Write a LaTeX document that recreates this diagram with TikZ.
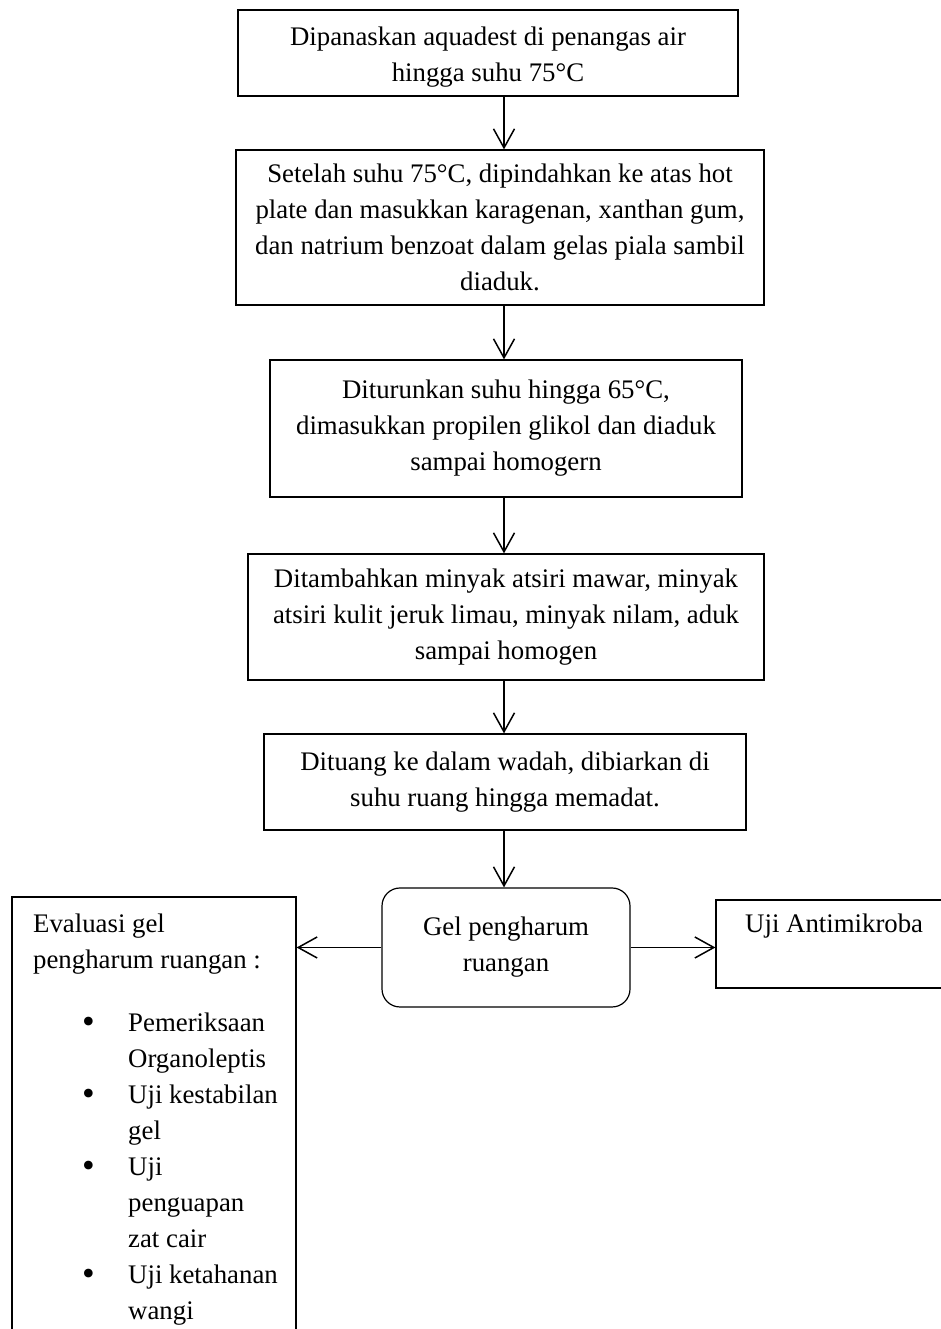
\documentclass[tikz,border=0pt]{standalone}
\usepackage{fontspec}
\setmainfont{Liberation Serif}
\usetikzlibrary{arrows.meta}
\newcommand{\bul}{\makebox[46pt][l]{\raisebox{-1.5pt}{\scalebox{1.35}{\textbullet}}}}
\newcommand{\ind}{\hspace*{46pt}}
\begin{document}
\begin{tikzpicture}[x=1pt,y=1pt,
  box/.style={draw, line width=1.2pt, inner sep=0pt, align=center, font=\fontsize{26.8}{36}\selectfont},
  flow/.style={line width=1.2pt, -{Straight Barb[length=19pt,width=21pt,line width=1.5pt]}},
  txt/.style={inner sep=0pt, font=\fontsize{26.8}{36}\selectfont}]
\useasboundingbox (0,0) rectangle (941,1329);
\clip (0,0) rectangle (941,1329);
\coordinate (axis) at (504,0);
\node[box, minimum width=500pt, minimum height=86pt] (b1) at (488,1276)
  {\rule{0pt}{26pt}Dipanaskan aquadest di penangas air\\hingga suhu 75°C};
\node[box, minimum width=528pt, minimum height=155pt] (b2) at (500,1101.5)
  {Setelah suhu 75°C, dipindahkan ke atas hot\\plate dan masukkan karagenan, xanthan gum,\\dan natrium benzoat dalam gelas piala sambil\\diaduk.};
\node[box, minimum width=472pt, minimum height=137pt] (b3) at (506,900.5)
  {Diturunkan suhu hingga 65°C,\\dimasukkan propilen glikol dan diaduk\\sampai homogern};
\node[box, minimum width=516pt, minimum height=126pt] (b4) at (506,712)
  {Ditambahkan minyak atsiri mawar, minyak\\atsiri kulit jeruk limau, minyak nilam, aduk\\sampai homogen};
\node[box, minimum width=482pt, minimum height=96pt] (b5) at (505,547)
  {Dituang ke dalam wadah, dibiarkan di\\suhu ruang hingga memadat.};
\node[box, rounded corners=18pt, minimum width=248pt, minimum height=119pt] (gel) at (506,381.5)
  {Gel pengharum\\ruangan};
\node[draw, line width=1.2pt, inner sep=0pt, minimum width=234pt, minimum height=88pt] (uji) at (833,385) {};
\node[txt, anchor=base west] (ujitext) at (745,396) {Uji Antimikroba};
\node[draw, line width=1.2pt, inner sep=0pt, minimum width=284pt, minimum height=452pt] (eval) at (154,206) {};
\node[txt, anchor=base west] (evalhead) at (33,396)
  {\begin{tabular}[t]{@{}l@{}}Evaluasi gel\\pengharum ruangan :\end{tabular}};
\node[txt, anchor=base west] (evallist) at (82,297)
  {\begin{tabular}[t]{@{}l@{}}
   \bul Pemeriksaan\\
   \ind Organoleptis\\
   \bul Uji kestabilan\\
   \ind gel\\
   \bul Uji\\
   \ind penguapan\\
   \ind zat cair\\
   \bul Uji ketahanan\\
   \ind wangi
   \end{tabular}};
\draw[flow] (b1.south -| axis) -- (b2.north -| axis);
\draw[flow] (b2.south -| axis) -- (b3.north -| axis);
\draw[flow] (b3.south -| axis) -- (b4.north -| axis);
\draw[flow] (b4.south -| axis) -- (b5.north -| axis);
\draw[flow] (b5.south -| axis) -- (gel.north -| axis);
\draw[flow] (gel.west) -- (eval.east |- gel.west);
\draw[flow] (gel.east) -- (uji.west |- gel.east);
\end{tikzpicture}
\end{document}
